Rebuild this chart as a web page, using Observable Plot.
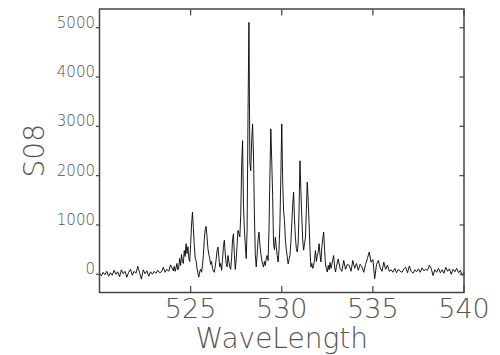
<!DOCTYPE html>
<html><head><meta charset="utf-8">
<script src="https://cdn.jsdelivr.net/npm/d3@7"></script>
<script src="https://cdn.jsdelivr.net/npm/@observablehq/plot@0.6"></script>
<style>
html,body{margin:0;padding:0;background:#fff;}
#chart{width:500px;height:355px;}
</style></head><body><div id="chart"></div>
<script>
const wavelength = [
  520.0,520.1,520.2,520.3,520.4,520.5,520.6,520.7,520.8,520.9,
  521.0,521.1,521.2,521.3,521.4,521.5,521.6,521.7,521.8,521.9,
  522.0,522.1,522.2,522.3,522.4,522.5,522.6,522.7,522.8,522.9,
  523.0,523.1,523.2,523.3,523.4,523.5,523.6,523.7,523.8,523.9,
  524.00,524.05,524.10,524.15,524.20,524.25,524.30,524.35,524.40,524.45,
  524.50,524.55,524.60,524.65,524.70,524.75,524.80,524.85,524.90,524.95,
  525.00,525.05,525.10,525.15,525.20,525.25,525.30,525.35,525.40,525.45,
  525.50,525.55,525.60,525.65,525.70,525.75,525.80,525.85,525.90,525.95,
  526.00,526.05,526.10,526.15,526.20,526.25,526.30,526.35,526.40,526.45,
  526.50,526.55,526.60,526.65,526.70,526.75,526.80,526.85,526.90,526.95,
  527.00,527.05,527.10,527.15,527.20,527.25,527.30,527.35,527.40,527.45,
  527.50,527.55,527.60,527.65,527.70,527.75,527.80,527.85,527.90,527.95,
  528.00,528.05,528.10,528.15,528.20,528.25,528.30,528.35,528.40,528.45,
  528.50,528.55,528.60,528.65,528.70,528.75,528.80,528.85,528.90,528.95,
  529.00,529.05,529.10,529.15,529.20,529.25,529.30,529.35,529.40,529.45,
  529.50,529.55,529.60,529.65,529.70,529.75,529.80,529.85,529.90,529.95,
  530.00,530.05,530.10,530.15,530.20,530.25,530.30,530.35,530.40,530.45,
  530.50,530.55,530.60,530.65,530.70,530.75,530.80,530.85,530.90,530.95,
  531.00,531.05,531.10,531.15,531.20,531.25,531.30,531.35,531.40,531.45,
  531.50,531.55,531.60,531.65,531.70,531.75,531.80,531.85,531.90,531.95,
  532.00,532.05,532.10,532.15,532.20,532.25,532.30,532.35,532.40,532.45,
  532.50,532.55,532.60,532.65,532.70,532.75,532.80,532.85,532.90,532.95,
  533.00,
  533.1,533.2,533.3,533.4,533.5,533.6,533.7,533.8,533.9,534.0,
  534.1,534.2,534.3,534.4,534.5,534.6,534.7,534.8,534.9,535.0,
  535.1,535.2,535.3,535.4,535.5,535.6,535.7,535.8,535.9,536.0,
  536.1,536.2,536.3,536.4,536.5,536.6,536.7,536.8,536.9,537.0,
  537.1,537.2,537.3,537.4,537.5,537.6,537.7,537.8,537.9,538.0,
  538.1,538.2,538.3,538.4,538.5,538.6,538.7,538.8,538.9,539.0,
  539.1,539.2,539.3,539.4,539.5,539.6,539.7,539.8,539.9,540.0
];
const intensity = [
  20,-30,40,-10,60,-40,30,-20,80,0,
  50,-50,90,10,60,-60,40,100,-20,60,
  20,160,30,-100,90,10,70,-40,50,0,
  60,20,80,30,50,140,40,100,60,190,
  110,70,160,60,130,220,90,150,320,180,
  400,250,220,480,360,620,420,560,330,260,
  600,1000,1260,950,600,330,280,120,20,-60,
  60,100,40,180,400,700,910,970,760,520,
  400,320,200,260,120,60,40,160,300,480,
  550,340,150,220,80,300,560,690,420,220,
  150,380,260,140,100,340,700,820,400,100,
  300,600,890,820,760,1200,2200,2710,1400,900,
  600,320,900,3300,5110,2250,2100,2700,3050,2400,
  1200,400,150,400,700,855,600,420,300,200,
  145,260,180,320,380,280,900,2000,2950,2300,
  1600,620,500,750,560,380,250,500,1030,2000,
  3050,1900,1300,1090,690,500,350,210,300,380,
  650,1030,1400,1665,1100,750,520,450,620,1300,
  2300,1700,1160,700,490,620,750,1300,1868,1500,
  1030,500,145,220,120,180,300,480,260,380,
  450,620,400,250,550,720,855,500,210,100,
  45,180,90,240,120,200,300,380,150,45,
  160,
  310,120,60,280,100,200,180,60,280,120,
  220,80,200,150,40,200,320,450,245,300,
  -90,200,280,130,60,245,100,185,60,90,
  40,120,30,100,60,40,110,145,30,170,
  60,20,90,50,110,40,130,70,100,80,
  180,120,-25,90,40,120,30,90,20,140,
  60,110,0,100,50,120,30,80,-25,40
];
const xTicks = [525, 530, 535, 540];
const yTicks = [0, 1000, 2000, 3000, 4000, 5000];
const xLabel = "WaveLength";
const yLabel = "S08";

if (wavelength.length !== intensity.length) throw new Error("length mismatch " + wavelength.length + " vs " + intensity.length);
const data = wavelength.map((w, i) => ({w, v: intensity[i]}));
const grey = "#555";
const axisGrey = "#444";

const plot = Plot.plot({
  width: 500, height: 355,
  marginLeft: 99, marginRight: 36.5, marginTop: 8.5, marginBottom: 63,
  style: {fontFamily: "'DejaVu Sans', sans-serif", fontWeight: 200, background: "#fff", color: grey, overflow: "visible"},
  x: {domain: [520, 540], axis: null},
  y: {domain: [-370, 5380], axis: null},
  marks: [
    Plot.line(data, {x: "w", y: "v", stroke: "#000", strokeWidth: 0.9}),
    Plot.frame({stroke: axisGrey, strokeWidth: 1.5}),
    Plot.axisX(xTicks, {anchor: "bottom", tickSize: -6, fill: "none", stroke: axisGrey, strokeWidth: 1.2}),
    Plot.axisX(xTicks, {anchor: "top", tickSize: -6, fill: "none", stroke: axisGrey, strokeWidth: 1.2}),
    Plot.axisY(yTicks, {anchor: "left", tickSize: 3, fill: "none", stroke: axisGrey, strokeWidth: 1.2}),
    Plot.axisY(yTicks, {anchor: "right", tickSize: -5, fill: "none", stroke: axisGrey, strokeWidth: 1.2}),
    Plot.text(xTicks, {x: d => d, text: d => String(d), frameAnchor: "bottom", lineAnchor: "top", dy: 6, fontSize: 27, fill: grey}),
    Plot.text(yTicks, {y: d => d, text: d => String(d), frameAnchor: "left", textAnchor: "end", lineAnchor: "bottom", dx: -4.5, fontSize: 15, fill: grey}),
    Plot.text([xLabel], {frameAnchor: "bottom", lineAnchor: "bottom", dy: 55, fontSize: 28, fill: grey}),
    Plot.text([yLabel], {frameAnchor: "left", rotate: -90, textAnchor: "middle", lineAnchor: "bottom", dx: -56, fontSize: 28, fill: grey, letterSpacing: 3})
  ]
});
document.getElementById("chart").appendChild(plot);
</script>
</body></html>
